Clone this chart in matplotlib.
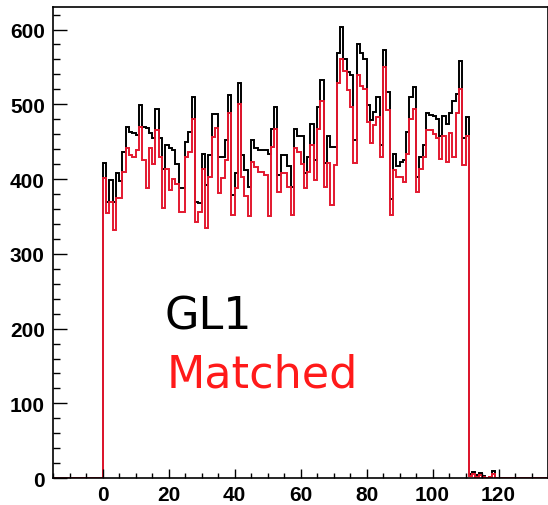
import matplotlib
matplotlib.use("Agg")
import matplotlib.pyplot as plt
from matplotlib.ticker import MultipleLocator
import numpy as np

# bin contents, bins of width 1 starting at x = 0
gl1 = [421, 370, 399, 370, 408, 397, 436, 469, 463, 461,
       459, 499, 469, 468, 461, 455, 494, 455, 414, 445,
       441, 439, 420, 388, 388, 450, 463, 510, 370, 368,
       434, 392, 432, 487, 487, 430, 430, 452, 512, 379,
       408, 528, 432, 412, 390, 452, 441, 439, 439, 439,
       434, 467, 496, 405, 432, 432, 417, 390, 467, 458,
       458, 408, 430, 474, 425, 496, 532, 421, 458, 443,
       443, 568, 603, 561, 543, 539, 452, 581, 568, 561,
       499, 479, 490, 510, 445, 572, 517, 374, 434, 417,
       423, 425, 463, 510, 523, 403, 430, 445, 488, 486,
       484, 481, 457, 485, 474, 488, 505, 514, 558, 455,
       483, 5, 8, 4, 7, 3, 0, 2, 9, 0]

matched = [401, 354, 370, 332, 375, 375, 410, 441, 432, 430,
           439, 470, 425, 388, 441, 420, 465, 430, 361, 414,
           385, 400, 394, 356, 356, 430, 436, 481, 343, 356,
           414, 334, 403, 456, 468, 381, 401, 425, 488, 352,
           388, 501, 403, 377, 350, 423, 416, 410, 410, 405,
           350, 443, 467, 383, 408, 408, 390, 352, 441, 436,
           420, 388, 410, 445, 399, 467, 505, 390, 421, 366,
           419, 528, 561, 545, 519, 496, 421, 539, 525, 521,
           476, 448, 472, 483, 430, 550, 492, 352, 412, 403,
           403, 396, 434, 481, 494, 383, 414, 430, 465, 465,
           460, 455, 427, 457, 423, 461, 429, 489, 521, 419,
           457, 3, 5, 2, 4, 2, 0, 1, 6, 0]

x_min, x_max = -15, 135
edges = np.arange(x_min, x_max + 1)

def fill_hist(vals):
    h = np.zeros(len(edges) - 1)
    h[-x_min:-x_min + len(vals)] = vals
    return h

fig = plt.figure(figsize=(5.48, 5.06), dpi=100)
ax = fig.add_axes([0.097, 0.053, 0.903, 0.931])

ax.stairs(fill_hist(gl1), edges, color="black", lw=1.4)
ax.stairs(fill_hist(matched), edges, color="#e3182f", lw=1.4)

ax.set_xlim(x_min, x_max)
ax.set_ylim(0, 630)

ax.xaxis.set_major_locator(MultipleLocator(20))
ax.xaxis.set_minor_locator(MultipleLocator(5))
ax.yaxis.set_major_locator(MultipleLocator(100))
ax.yaxis.set_minor_locator(MultipleLocator(20))

ax.tick_params(axis="both", which="both", direction="in", top=False, right=False)
ax.tick_params(axis="y", which="major", length=10, width=1, pad=6)
ax.tick_params(axis="y", which="minor", length=5, width=1)
ax.tick_params(axis="x", which="major", length=6.5, width=1, pad=5)
ax.tick_params(axis="x", which="minor", length=3.6, width=1)

for lab in ax.get_xticklabels() + ax.get_yticklabels():
    lab.set_fontfamily("Liberation Sans")
    lab.set_fontweight("bold")
    lab.set_fontsize(15)

for s in ax.spines.values():
    s.set_linewidth(1.2)

fig.text(0.301, 0.348, "GL1", color="black", fontsize=32,
         family="DejaVu Sans", va="baseline")
fig.text(0.304, 0.235, "Matched", color="#ff1a1a", fontsize=32,
         family="DejaVu Sans", va="baseline")

fig.savefig("out.png", dpi=100)
